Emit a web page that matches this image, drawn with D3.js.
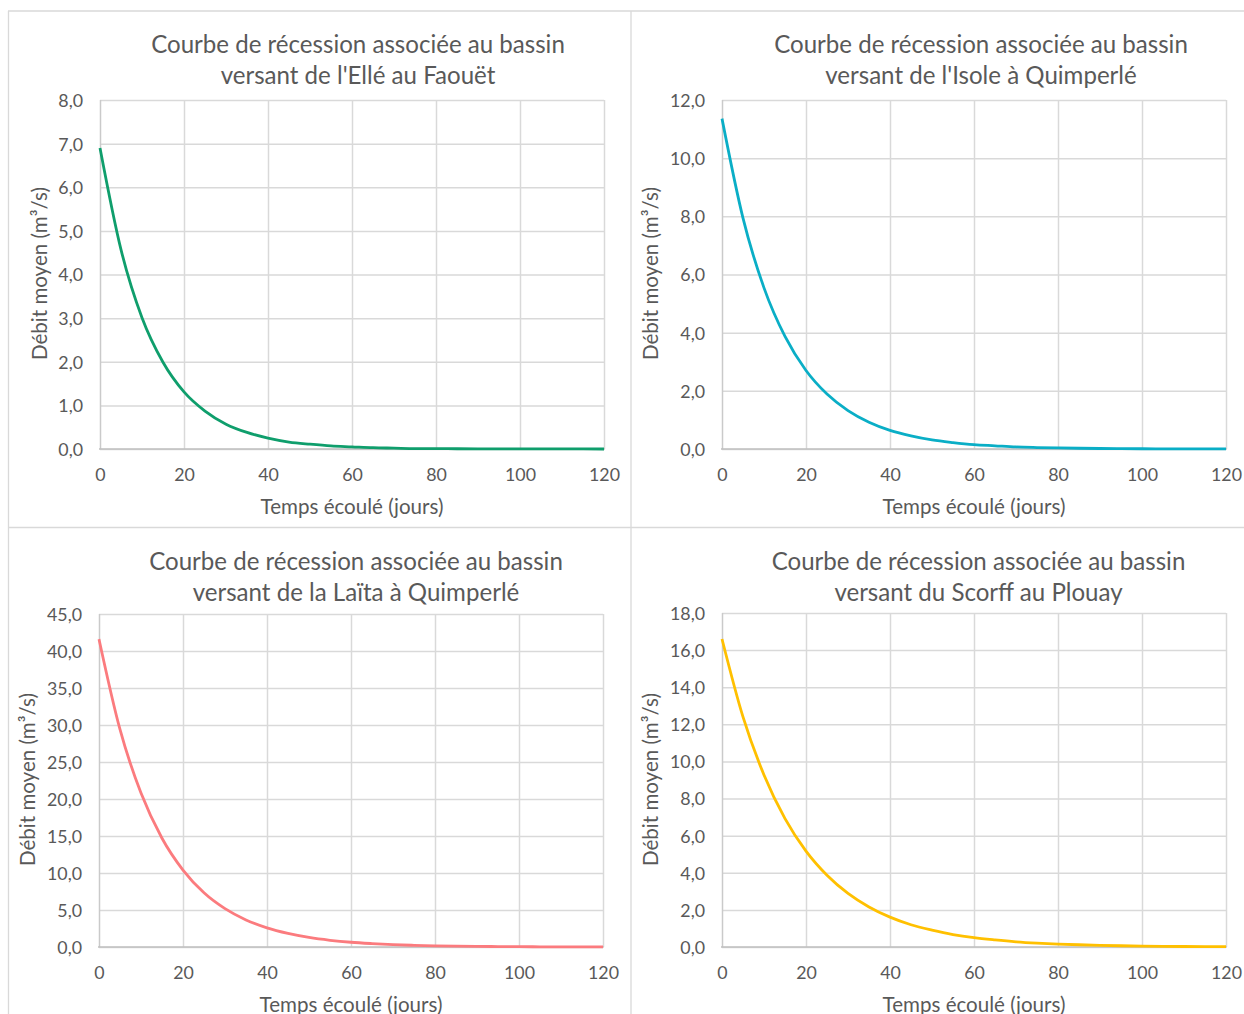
<!DOCTYPE html>
<html>
<head>
<meta charset="utf-8">
<script src="https://cdn.jsdelivr.net/npm/d3@7"></script>
<style>
  html, body { margin: 0; padding: 0; background: #ffffff; }
  svg { display: block; }
  text { fill: #595959; }
</style>
</head>
<body>
<svg id="fig" width="1244" height="1014"></svg>
<script>
// Jours écoulés depuis le début de la récession
const days = [0, 5, 10, 15, 20, 25, 30, 35, 40, 45, 50, 55, 60, 65, 70, 75, 80, 85, 90, 95, 100, 105, 110, 115, 120];

// Débits moyens (m3/s) lus sur chaque courbe
const qElle    = [6.90, 4.57, 3.01, 1.99, 1.31, 0.87, 0.57, 0.38, 0.25, 0.16, 0.11, 0.07, 0.05, 0.03, 0.02, 0.01, 0.009, 0.006, 0.004, 0.003, 0.002, 0.001, 0.001, 0.001, 0.0];
const qIsole   = [11.36, 7.94, 5.54, 3.87, 2.70, 1.89, 1.32, 0.92, 0.64, 0.45, 0.31, 0.22, 0.15, 0.11, 0.07, 0.05, 0.036, 0.025, 0.017, 0.012, 0.008, 0.006, 0.004, 0.003, 0.002];
const qLaita   = [41.6, 29.4, 20.8, 14.7, 10.4, 7.32, 5.18, 3.66, 2.58, 1.83, 1.29, 0.91, 0.64, 0.46, 0.32, 0.23, 0.16, 0.11, 0.08, 0.06, 0.04, 0.03, 0.02, 0.015, 0.01];
const qScorff  = [16.6, 12.4, 9.27, 6.92, 5.17, 3.87, 2.89, 2.16, 1.61, 1.20, 0.91, 0.67, 0.50, 0.38, 0.28, 0.21, 0.16, 0.12, 0.09, 0.067, 0.05, 0.037, 0.028, 0.021, 0.016];

// Titres des graphiques (deux lignes chacun)
const titles = [
  ["Courbe de récession associée au bassin", "versant de l'Ellé au Faouët"],
  ["Courbe de récession associée au bassin", "versant de l'Isole à Quimperlé"],
  ["Courbe de récession associée au bassin", "versant de la Laïta à Quimperlé"],
  ["Courbe de récession associée au bassin", "versant du Scorff au Plouay"]
];

// Graduations
const xTicks = [0, 20, 40, 60, 80, 100, 120];
const yTicksElle   = [0, 1, 2, 3, 4, 5, 6, 7, 8];
const yTicksIsole  = [0, 2, 4, 6, 8, 10, 12];
const yTicksLaita  = [0, 5, 10, 15, 20, 25, 30, 35, 40, 45];
const yTicksScorff = [0, 2, 4, 6, 8, 10, 12, 14, 16, 18];

const xLabel = "Temps écoulé (jours)";
const yLabel = "Débit moyen (m³/s)";

const FONT = "Lato, 'Open Sans', sans-serif";
const svg = d3.select("#fig");

const fr = d3.formatLocale({ decimal: ",", thousands: " ", grouping: [3], currency: ["", " €"] });
const fmtY = fr.format(".1f");

// Taille de police ajustée à une largeur voulue
function fitSize(str, target) {
  const t = svg.append("text").style("font-family", FONT).style("font-size", "100px").text(str);
  const w = t.node().getComputedTextLength();
  t.remove();
  return 100 * target / w;
}
const titleSize = fitSize(titles[0][0], 414);
const axisTitleSize = fitSize(xLabel, 183);
const tickSize = fitSize("12,0", 35);

// Cadres des graphiques
const frame = svg.append("g").attr("stroke", "#d9d9d9").attr("stroke-width", 1.3).attr("fill", "none");
frame.append("line").attr("x1", 8).attr("x2", 1244).attr("y1", 11).attr("y2", 11);
frame.append("line").attr("x1", 8.5).attr("x2", 8.5).attr("y1", 11).attr("y2", 1014);
frame.append("line").attr("x1", 631).attr("x2", 631).attr("y1", 11).attr("y2", 1014);
frame.append("line").attr("x1", 8).attr("x2", 1244).attr("y1", 527.5).attr("y2", 527.5);

const panels = [
  { q: qElle,   color: "#0f9e6c", yTicks: yTicksElle,   title: titles[0],
    left: 100, right: 604, top: 100, bottom: 449, tb1: 52.5, tb2: 83.5, tcx: 358, ytx: 47, ycy: 273.5 },
  { q: qIsole,  color: "#0aaec6", yTicks: yTicksIsole,  title: titles[1],
    left: 722, right: 1226, top: 100, bottom: 449, tb1: 52.5, tb2: 83.5, tcx: 981, ytx: 658, ycy: 273.5 },
  { q: qLaita,  color: "#fb7b7e", yTicks: yTicksLaita,  title: titles[2],
    left: 99, right: 603, top: 614, bottom: 947, tb1: 569.5, tb2: 600.5, tcx: 356, ytx: 35, ycy: 779.5 },
  { q: qScorff, color: "#ffc000", yTicks: yTicksScorff, title: titles[3],
    left: 722, right: 1226, top: 613, bottom: 947, tb1: 569.5, tb2: 600.5, tcx: 978.5, ytx: 658, ycy: 779.5 }
];

panels.forEach(p => {
  const g = svg.append("g");
  const x = d3.scaleLinear().domain([0, 120]).range([p.left, p.right]);
  const yMax = p.yTicks[p.yTicks.length - 1];
  const y = d3.scaleLinear().domain([0, yMax]).range([p.bottom, p.top]);

  // Quadrillage horizontal
  const gy = g.append("g").attr("transform", `translate(${p.left},0)`)
    .call(d3.axisLeft(y).tickValues(p.yTicks).tickSize(-(p.right - p.left)).tickFormat(fmtY).tickPadding(17));
  gy.select(".domain").remove();
  gy.selectAll(".tick line").attr("stroke", "#d9d9d9").attr("stroke-width", 1.5);
  gy.selectAll(".tick text").style("font-family", FONT).style("font-size", tickSize + "px")
    .attr("fill", "#595959").attr("dy", "0.36em");

  // Quadrillage vertical
  const gx = g.append("g").attr("transform", `translate(0,${p.bottom})`)
    .call(d3.axisBottom(x).tickValues(xTicks).tickSize(-(p.bottom - p.top)).tickFormat(d3.format("d")).tickPadding(0));
  gx.select(".domain").remove();
  gx.selectAll(".tick line").attr("stroke", (d) => d === 0 ? "#cacaca" : "#d9d9d9").attr("stroke-width", 1.5);
  gx.selectAll(".tick text").style("font-family", FONT).style("font-size", tickSize + "px")
    .attr("fill", "#595959").attr("dy", null).attr("y", 32);

  // Axe des abscisses
  g.append("line").attr("x1", p.left - 1).attr("x2", p.right + 0.75)
    .attr("y1", p.bottom).attr("y2", p.bottom)
    .attr("stroke", "#bfbfbf").attr("stroke-width", 1.6);

  // Courbe de récession
  const line = d3.line().x((d, i) => x(days[i])).y(d => y(d)).curve(d3.curveMonotoneX);
  g.append("path").datum(p.q).attr("d", line)
    .attr("fill", "none").attr("stroke", p.color).attr("stroke-width", 2.8)
    .attr("stroke-linejoin", "round");

  // Titre
  g.append("text").attr("x", p.tcx).attr("y", p.tb1).attr("text-anchor", "middle")
    .style("font-family", FONT).style("font-size", titleSize + "px").text(p.title[0]);
  g.append("text").attr("x", p.tcx).attr("y", p.tb2).attr("text-anchor", "middle")
    .style("font-family", FONT).style("font-size", titleSize + "px").text(p.title[1]);

  // Titres des axes
  g.append("text").attr("x", (p.left + p.right) / 2).attr("y", p.bottom + 64.5).attr("text-anchor", "middle")
    .style("font-family", FONT).style("font-size", axisTitleSize + "px").text(xLabel);
  g.append("text").attr("transform", `translate(${p.ytx},${p.ycy}) rotate(-90)`).attr("text-anchor", "middle")
    .style("font-family", FONT).style("font-size", axisTitleSize + "px").text(yLabel);
});
</script>
</body>
</html>
